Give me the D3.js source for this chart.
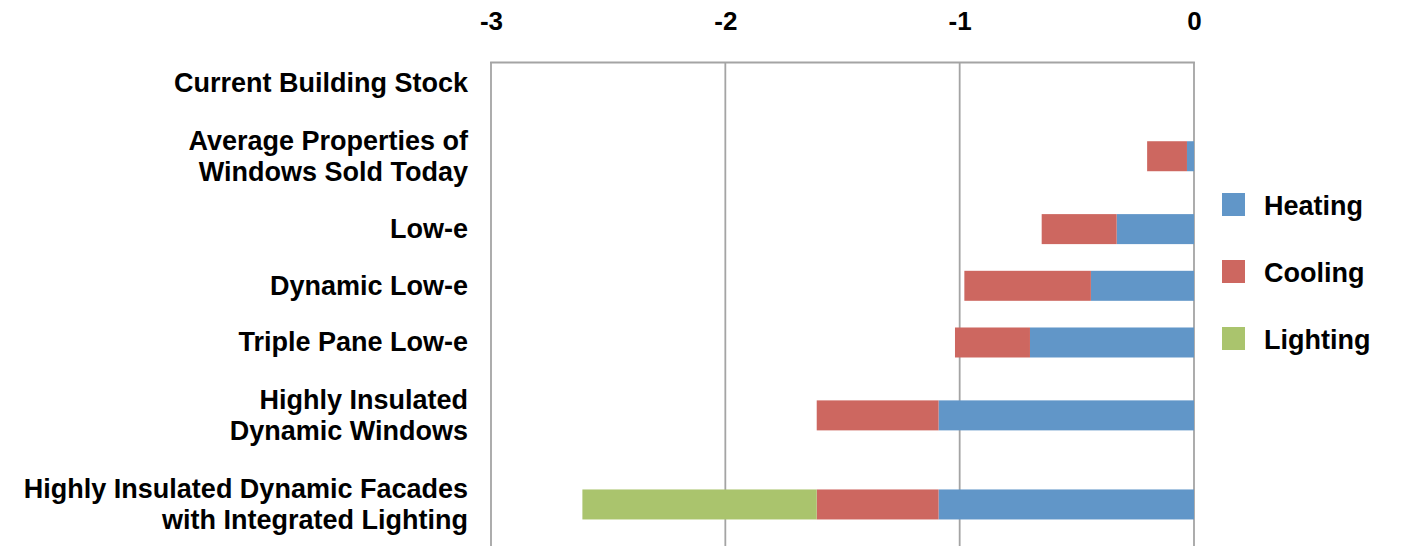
<!DOCTYPE html>
<html>
<head>
<meta charset="utf-8">
<script src="https://cdn.jsdelivr.net/npm/d3@7"></script>
<style>
  html, body { margin: 0; padding: 0; background: #fff; }
  svg { display: block; }
  text { font-family: "Liberation Sans", Arial, Helvetica, sans-serif; font-weight: bold; fill: #000; }
</style>
</head>
<body>
<svg id="chart" width="1408" height="546"></svg>
<script>
// ---- data ----
const categories = [
  "Current Building Stock",
  "Average Properties of\nWindows Sold Today",
  "Low-e",
  "Dynamic Low-e",
  "Triple Pane Low-e",
  "Highly Insulated\nDynamic Windows",
  "Highly Insulated Dynamic Facades\nwith Integrated Lighting"
];
const heating  = [0, -0.03, -0.33, -0.44, -0.70, -1.09, -1.09];
const cooling  = [0, -0.17, -0.32, -0.54, -0.32, -0.52, -0.52];
const lighting = [0,  0,     0,     0,     0,     0,    -1.00];
const seriesNames = ["Heating", "Cooling", "Lighting"];
const seriesColors = ["#6196C8", "#CD6760", "#AAC46D"];
const xTicks = [-3, -2, -1, 0];

// ---- layout ----
const W = 1408, H = 546;
const plot = { left: 491, right: 1194, top: 62, bottom: 546 };
const rowTop = 55, rowBottom = 549;
const barH = 30;
const fontSize = 27, lineH = 31;

const svg = d3.select("#chart");

const x = d3.scaleLinear().domain([-3, 0]).range([plot.left, plot.right]);

// rows sized by the number of label lines
const lineCounts = categories.map(c => c.split("\n").length);
const rowUnits = lineCounts.map(n => 3 + 4 * n);
const cum = d3.cumsum(rowUnits);
const totalUnits = cum[cum.length - 1];
const yU = d3.scaleLinear().domain([0, totalUnits]).range([rowTop, rowBottom]);
const yCenter = categories.map((c, i) => yU(cum[i] - rowUnits[i] / 2));

// stacked data
const table = categories.map((c, i) => ({
  cat: c, i: i, Heating: heating[i], Cooling: cooling[i], Lighting: lighting[i]
}));
const stack = d3.stack().keys(seriesNames).offset(d3.stackOffsetDiverging);
const stacked = stack(table);

// gridlines
svg.append("g").selectAll("line").data(xTicks).join("line")
  .attr("x1", d => x(d)).attr("x2", d => x(d))
  .attr("y1", plot.top).attr("y2", plot.bottom)
  .attr("stroke", "#a4a4a4").attr("stroke-width", 1.8);
// top frame line
svg.append("line")
  .attr("x1", plot.left - 0.9).attr("x2", plot.right + 0.9)
  .attr("y1", plot.top + 0.5).attr("y2", plot.top + 0.5)
  .attr("stroke", "#a4a4a4").attr("stroke-width", 1.8);

// bars
const color = d3.scaleOrdinal().domain(seriesNames).range(seriesColors);
svg.append("g").selectAll("g").data(stacked).join("g")
  .attr("fill", d => color(d.key))
  .selectAll("rect").data(d => d.filter(p => p[1] - p[0] !== 0)).join("rect")
  .attr("x", d => x(Math.min(d[0], d[1])))
  .attr("width", d => Math.abs(x(d[1]) - x(d[0])))
  .attr("y", d => yCenter[d.data.i] - barH / 2)
  .attr("height", barH);

// x tick labels (top)
const xAxis = d3.axisTop(x).tickValues(xTicks).tickSize(0).tickPadding(0)
  .tickFormat(d => d3.format("d")(d).replace("−", "-"));
const gx = svg.append("g").attr("transform", "translate(0,30)").call(xAxis);
gx.select(".domain").remove();
gx.selectAll("text")
  .attr("font-size", 26).attr("font-family", null).attr("fill", "#000")
  .attr("dy", 0).style("font-weight", "bold");

// category labels
const labelX = 468;
const lg = svg.append("g");
categories.forEach((c, i) => {
  const lines = c.split("\n");
  const t = lg.append("text").attr("text-anchor", "end").attr("font-size", fontSize);
  lines.forEach((ln, k) => {
    const off = (k - (lines.length - 1) / 2) * lineH + 9;
    t.append("tspan").attr("x", labelX).attr("y", yCenter[i] + off).text(ln);
  });
});

// legend
const legY = d3.scalePoint().domain(seriesNames).range([193, 327]);
const leg = svg.append("g");
leg.selectAll("rect").data(seriesNames).join("rect")
  .attr("x", 1222).attr("y", d => legY(d)).attr("width", 23).attr("height", 23)
  .attr("fill", d => color(d));
leg.selectAll("text").data(seriesNames).join("text")
  .attr("x", 1264).attr("y", d => legY(d) + 22)
  .attr("font-size", fontSize).text(d => d);
</script>
</body>
</html>
